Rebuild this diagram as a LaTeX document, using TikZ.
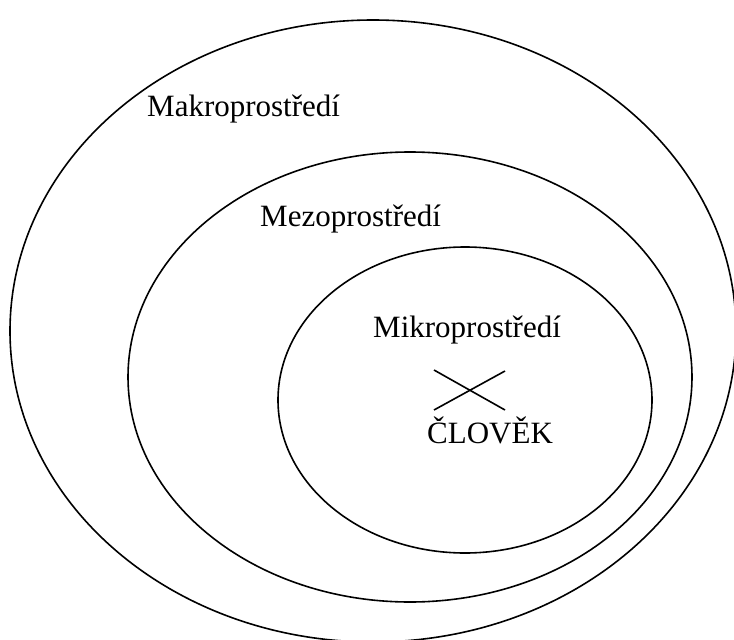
\documentclass[tikz,border=0pt]{standalone}
\usepackage{fontspec}
\setmainfont{Liberation Serif}
\usetikzlibrary{shapes.geometric}
\begin{document}
\begin{tikzpicture}[x=1pt,y=-1pt,
  ring/.style={draw=black, line width=1.6pt, ellipse, inner sep=0pt, outer sep=0pt},
  lbl/.style={anchor=base west, inner sep=0pt, font=\fontsize{31}{36}\selectfont},
  crossline/.style={draw=black, line width=1.6pt}]
\useasboundingbox (0,0) rectangle (734,640);
\clip (0,0) rectangle (734,640);
\node[ring, minimum width=726pt, minimum height=622pt] (makro) at (373,331) {};
\node[ring, minimum width=564pt, minimum height=450pt] (mezo) at (410,377) {};
\node[ring, minimum width=374pt, minimum height=306pt] (mikro) at (465,400) {};
\node[lbl] (tmakro) at (147,116) {Makroprostředí};
\node[lbl] (tmezo) at (260,226) {Mezoprostředí};
\node[lbl] (tmikro) at (373,337) {Mikroprostředí};
\node[lbl] (tclovek) at (427,443) {ČLOVĚK};
\coordinate (c1) at (434,370);
\coordinate (c2) at (505,410);
\coordinate (c3) at (434,410);
\coordinate (c4) at (505,371);
\draw[crossline] (c1) -- (c2);
\draw[crossline] (c3) -- (c4);
\end{tikzpicture}
\end{document}
